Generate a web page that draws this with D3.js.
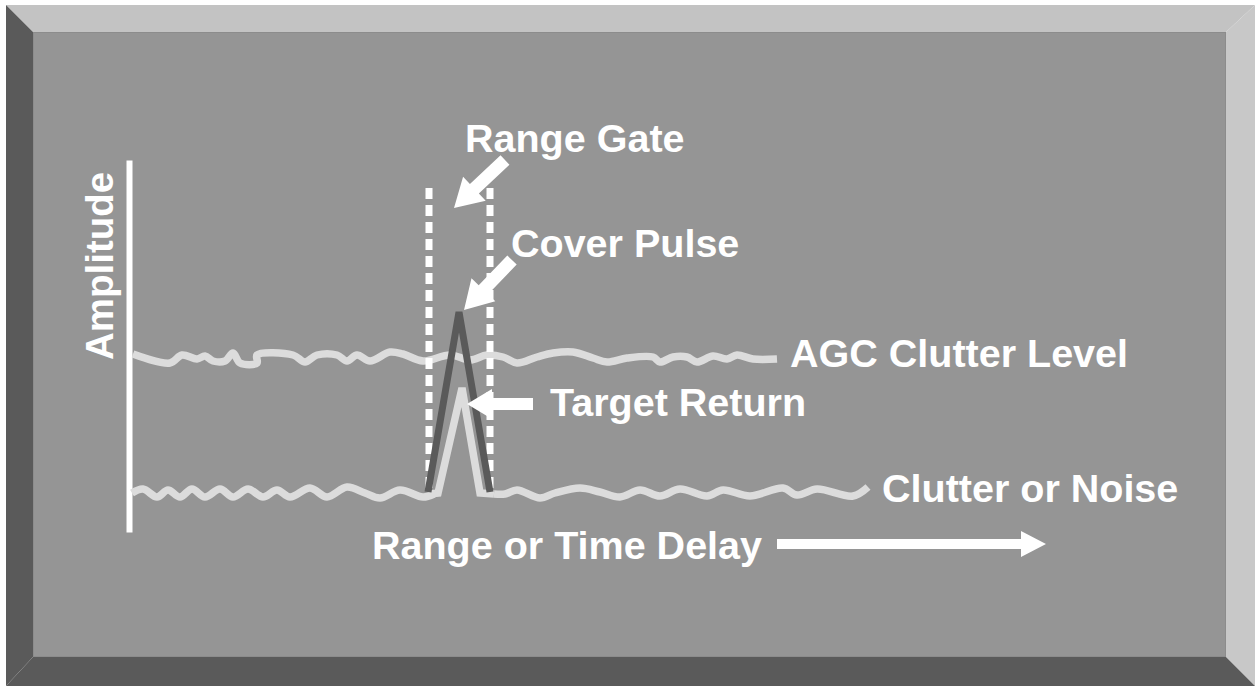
<!DOCTYPE html>
<html>
<head>
<meta charset="utf-8">
<script src="https://cdnjs.cloudflare.com/ajax/libs/d3/7.8.5/d3.min.js"></script>
<style>
html, body { margin: 0; padding: 0; background: #fff; overflow: hidden; }
svg { display: block; }
</style>
</head>
<body>
<div id="chart"></div>
<script>
// range units run to the right of the amplitude axis, amplitude units run up from its foot
var agcLevel = [[5,178],[42,169],[54,177],[69,173],[77,176],[85,171],[97,171],[105,179],[112,169],
    [129,169],[129,177],[165,177],[177,170],[189,177],[209,177],[219,171],[229,177],[242,171],
    [262,180],[275,178],[295,171],[322,177],[342,172],[359,177],[375,175],[389,169],[409,175],
    [425,179],[445,180],[465,174],[479,170],[499,174],[525,175],[532,170],[545,175],[559,175],
    [569,170],[585,176],[599,173],[609,177],[625,173],[649,173]];

var clutterBefore = [[4,39],[15,43],[29,35],[40,42],[52,35],[64,43],[77,35],[92,43],[105,35],
    [120,43],[135,35],[149,42],[162,35],[182,44],[199,35],[219,45],[237,39],[252,34],[272,42],
    [295,35],[306,38]];

var targetReturn = [[302,38],[310,39],[334,144],[352,39],[366,38]];

var clutterAfter = [[366,38],[377,38],[389,42],[412,34],[427,39],[452,44],[472,40],[492,35],
    [512,42],[532,36],[552,43],[579,36],[595,42],[622,36],[655,44],[669,37],[689,43],[725,36],
    [740,45]];

var coverPulse = [[300,40],[331,220],[362,40]];

var rangeGate = [301, 362];
var gateSpan = [40, 344];

var labels = ["Range Gate", "Cover Pulse", "AGC Clutter Level", "Target Return",
    "Clutter or Noise", "Range or Time Delay"];
var axisTitle = "Amplitude";

var W = 1255, H = 686;

var svg = d3.select('#chart')
    .append('svg')
    .attr('width', W)
    .attr('height', H);

// bevelled frame
var o = {x0: 6, y0: 5, x1: 1255, y1: 686};
var i = {x0: 33, y0: 32, x1: 1226, y1: 657};
var bevels = [
    {c: '#c3c3c3', p: [[o.x0,o.y0],[o.x1,o.y0],[i.x1,i.y0],[i.x0,i.y0]]},
    {c: '#c8c8c8', p: [[o.x1,o.y0],[o.x1,o.y1],[i.x1,i.y1],[i.x1,i.y0]]},
    {c: '#5a5a5a', p: [[o.x0,o.y0],[i.x0,i.y0],[i.x0,i.y1],[o.x0,o.y1]]},
    {c: '#5a5a5a', p: [[o.x0,o.y1],[i.x0,i.y1],[i.x1,i.y1],[o.x1,o.y1]]}
];
svg.selectAll('polygon.bevel')
    .data(bevels)
    .enter().append('polygon')
    .attr('class', 'bevel')
    .attr('points', function (d) { return d.p.join(' '); })
    .attr('fill', function (d) { return d.c; });

svg.append('rect')
    .attr('x', i.x0 + 0.5).attr('y', i.y0 + 0.5)
    .attr('width', i.x1 - i.x0 - 1).attr('height', i.y1 - i.y0 - 1)
    .attr('fill', '#959595')
    .attr('stroke', '#8c8c8c');

var x = d3.scaleLinear().domain([0, 920]).range([128, 1048]);
var y = d3.scaleLinear().domain([0, 372]).range([532, 160]);

var wiggle = d3.line()
    .x(function (d) { return x(d[0]); })
    .y(function (d) { return y(d[1]); })
    .curve(d3.curveCatmullRom.alpha(0.5));

var straight = d3.line()
    .x(function (d) { return x(d[0]); })
    .y(function (d) { return y(d[1]); });

// amplitude axis, no ticks
svg.append('g')
    .attr('transform', 'translate(' + (x(0) + 1) + ',0)')
    .call(d3.axisRight(y).tickValues([]).tickSizeOuter(0))
    .select('.domain')
    .attr('stroke', '#fff')
    .attr('stroke-width', 6);

var light = '#dcdcdc';

svg.selectAll('path.noise')
    .data([agcLevel, clutterBefore, clutterAfter])
    .enter().append('path')
    .attr('class', 'noise')
    .attr('d', wiggle)
    .attr('fill', 'none')
    .attr('stroke', light)
    .attr('stroke-width', 7.5)
    .attr('stroke-linejoin', 'round');

// range gate
svg.selectAll('line.gate')
    .data(rangeGate)
    .enter().append('line')
    .attr('class', 'gate')
    .attr('x1', function (d) { return x(d); })
    .attr('x2', function (d) { return x(d); })
    .attr('y1', y(gateSpan[1]))
    .attr('y2', y(gateSpan[0]))
    .attr('stroke', '#fff')
    .attr('stroke-width', 7)
    .attr('stroke-dasharray', '11,6');

svg.append('path')
    .attr('d', straight(targetReturn))
    .attr('fill', 'none')
    .attr('stroke', light)
    .attr('stroke-width', 7.5)
    .attr('stroke-linejoin', 'miter');

svg.append('path')
    .attr('d', straight(coverPulse))
    .attr('fill', 'none')
    .attr('stroke', '#5a5a5a')
    .attr('stroke-width', 7)
    .attr('stroke-linejoin', 'miter');

// block arrows
var arrow = function (x1, y1, x2, y2, sw, hl, hw) {
    var dx = x2 - x1, dy = y2 - y1;
    var len = Math.sqrt(dx * dx + dy * dy);
    var ux = dx / len, uy = dy / len, nx = -uy, ny = ux;
    var bx = x2 - ux * hl, by = y2 - uy * hl;
    var pts = [
        [x1 + nx * sw / 2, y1 + ny * sw / 2],
        [bx + nx * sw / 2, by + ny * sw / 2],
        [bx + nx * hw / 2, by + ny * hw / 2],
        [x2, y2],
        [bx - nx * hw / 2, by - ny * hw / 2],
        [bx - nx * sw / 2, by - ny * sw / 2],
        [x1 - nx * sw / 2, y1 - ny * sw / 2]
    ];
    svg.append('polygon')
        .attr('points', pts.join(' '))
        .attr('fill', '#fff');
};

arrow(505, 160, 454, 208, 13, 28, 33);
arrow(512, 260, 464, 310, 13, 28, 33);
arrow(533, 404, 467, 404, 12, 25, 30);
arrow(777, 544, 1046, 544, 10, 25, 26);

var spots = [[465, 152], [511, 257], [790, 367], [550, 416], [882, 502], [372, 559]];

svg.selectAll('text.label')
    .data(labels)
    .enter().append('text')
    .attr('class', 'label')
    .attr('x', function (d, k) { return spots[k][0]; })
    .attr('y', function (d, k) { return spots[k][1]; })
    .attr('font-family', '"Liberation Sans", Arial, sans-serif')
    .attr('font-weight', 'bold')
    .attr('font-size', 39.5)
    .attr('fill', '#fff')
    .text(function (d) { return d; });

svg.append('text')
    .attr('transform', 'translate(113,360) rotate(-90)')
    .attr('font-family', '"Liberation Sans", Arial, sans-serif')
    .attr('font-weight', 'bold')
    .attr('font-size', 38.5)
    .attr('fill', '#fff')
    .text(axisTitle);
</script>
</body>
</html>
